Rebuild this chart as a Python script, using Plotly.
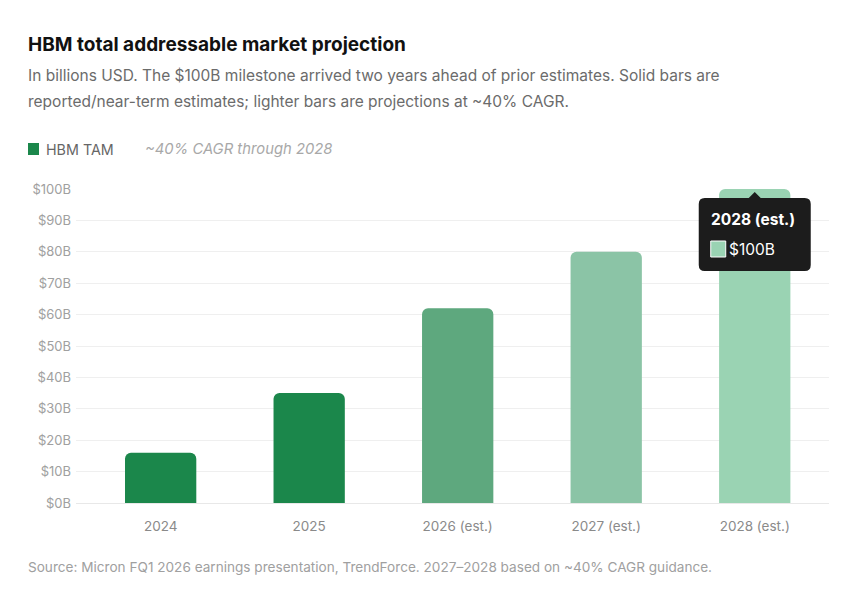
import plotly.graph_objects as go

years = ['2024', '2025', '2026 (est.)', '2027 (est.)', '2028 (est.)']
tam = [16, 35, 62, 80, 100]
bar_colors = ['#1b874b', '#1b874b', '#5ea87e', '#8bc4a6', '#9ad3b3']
y_ticks = [0, 10, 20, 30, 40, 50, 60, 70, 80, 90, 100]
y_tick_labels = ['$%dB' % v for v in y_ticks]

FONT = 'Inter'

# page has an 8px body margin, so the figure is a bit smaller than the window
W, H = 847, 596
L, R, T, B = 68, 26, 181, 101
OFF = 8  # positions below are measured in window pixels


def px(x):
    return (x - OFF - L) / (W - L - R)


def py(y):
    return 1 - (y - OFF - T) / (H - T - B)


fig = go.Figure()
fig.add_trace(go.Bar(
    x=years, y=tam,
    marker=dict(color=bar_colors, cornerradius=6, line=dict(width=0)),
    width=0.48,
    hoverinfo='skip',
    showlegend=False,
))

# tooltip on the last bar
tip = years[-1]
fig.add_shape(
    type='path', xref='x', yref='y',
    xsizemode='pixel', ysizemode='pixel',
    xanchor=4, yanchor=tam[-1],
    path='M -50 -9 L -6 -9 L 0 -3 L 6 -9 L 50 -9 Q 56 -9 56 -15 L 56 -76 Q 56 -82 50 -82 '
         'L -50 -82 Q -56 -82 -56 -76 L -56 -15 Q -56 -9 -50 -9 Z',
    fillcolor='#1c1c1c', line=dict(width=0), layer='above',
)
fig.add_shape(
    type='rect', xref='x', yref='y',
    xsizemode='pixel', ysizemode='pixel',
    xanchor=4, yanchor=tam[-1],
    x0=-44, x1=-29, y0=-52, y1=-68,
    fillcolor=bar_colors[-1], line=dict(color='#ffffff', width=1), layer='above',
)
fig.add_annotation(x=tip, y=tam[-1], xref='x', yref='y', text='<b>%s</b>' % tip,
                   showarrow=False, xanchor='left', yanchor='middle',
                   xshift=-46, yshift=-30,
                   font=dict(family=FONT, size=15.5, color='#ffffff'))
fig.add_annotation(x=tip, y=tam[-1], xref='x', yref='y', text='$%dB' % tam[-1],
                   showarrow=False, xanchor='left', yanchor='middle',
                   xshift=-28, yshift=-60,
                   font=dict(family=FONT, size=15.5, color='#ffffff'))

# title, subtitle, legend, source
fig.add_annotation(x=px(26), y=py(44), xref='paper', yref='paper',
                   text='<b>HBM total addressable market projection</b>',
                   showarrow=False, xanchor='left', yanchor='middle',
                   font=dict(family=FONT, size=19, color='#111111'))
sub_lines = ['In billions USD. The $100B milestone arrived two years ahead of prior estimates. Solid bars are',
             'reported/near-term estimates; lighter bars are projections at ~40% CAGR.']
for i, line in enumerate(sub_lines):
    fig.add_annotation(x=px(26), y=py(76 + 25 * i), xref='paper', yref='paper', text=line,
                       showarrow=False, xanchor='left', yanchor='middle',
                       font=dict(family=FONT, size=15.5, color='#6b6b6b'))
fig.add_annotation(x=px(44), y=py(149), xref='paper', yref='paper', text='HBM TAM',
                   showarrow=False, xanchor='left', yanchor='middle',
                   font=dict(family=FONT, size=14.3, color='#666666'))
fig.add_annotation(x=px(143), y=py(149), xref='paper', yref='paper',
                   text='<i>~40% CAGR through 2028</i>', showarrow=False,
                   xanchor='left', yanchor='middle',
                   font=dict(family=FONT, size=14.8, color='#a8a8a8'))
fig.add_annotation(x=px(26), y=py(567), xref='paper', yref='paper',
                   text='Source: Micron FQ1 2026 earnings presentation, TrendForce. '
                        '2027\u20132028 based on ~40% CAGR guidance.',
                   showarrow=False, xanchor='left', yanchor='middle',
                   font=dict(family=FONT, size=13.6, color='#a0a0a0'))

fig.add_shape(type='rect', xref='paper', yref='paper',
              x0=px(28), x1=px(39), y0=py(155), y1=py(143),
              fillcolor='#1b874b', line=dict(width=0))

fig.update_layout(
    width=W, height=H,
    margin=dict(l=L, r=R, t=T, b=B),
    paper_bgcolor='#ffffff', plot_bgcolor='#ffffff',
    font=dict(family=FONT),
    xaxis=dict(
        range=[-0.57, 4.5], showgrid=False, zeroline=False, showline=False,
        ticks='', ticklabelstandoff=13,
        tickfont=dict(family=FONT, size=13.5, color='#8a8a8a'),
        fixedrange=True,
    ),
    yaxis=dict(
        range=[0, 100], tickvals=y_ticks, ticktext=y_tick_labels,
        showgrid=True, gridcolor='#efefef', gridwidth=1,
        zeroline=True, zerolinecolor='#e8e8e8', zerolinewidth=1,
        showline=False, ticks='', ticklabelstandoff=4,
        tickfont=dict(family=FONT, size=13, color='#a0a0a0'),
        fixedrange=True,
    ),
)

fig.write_html('out.html')
